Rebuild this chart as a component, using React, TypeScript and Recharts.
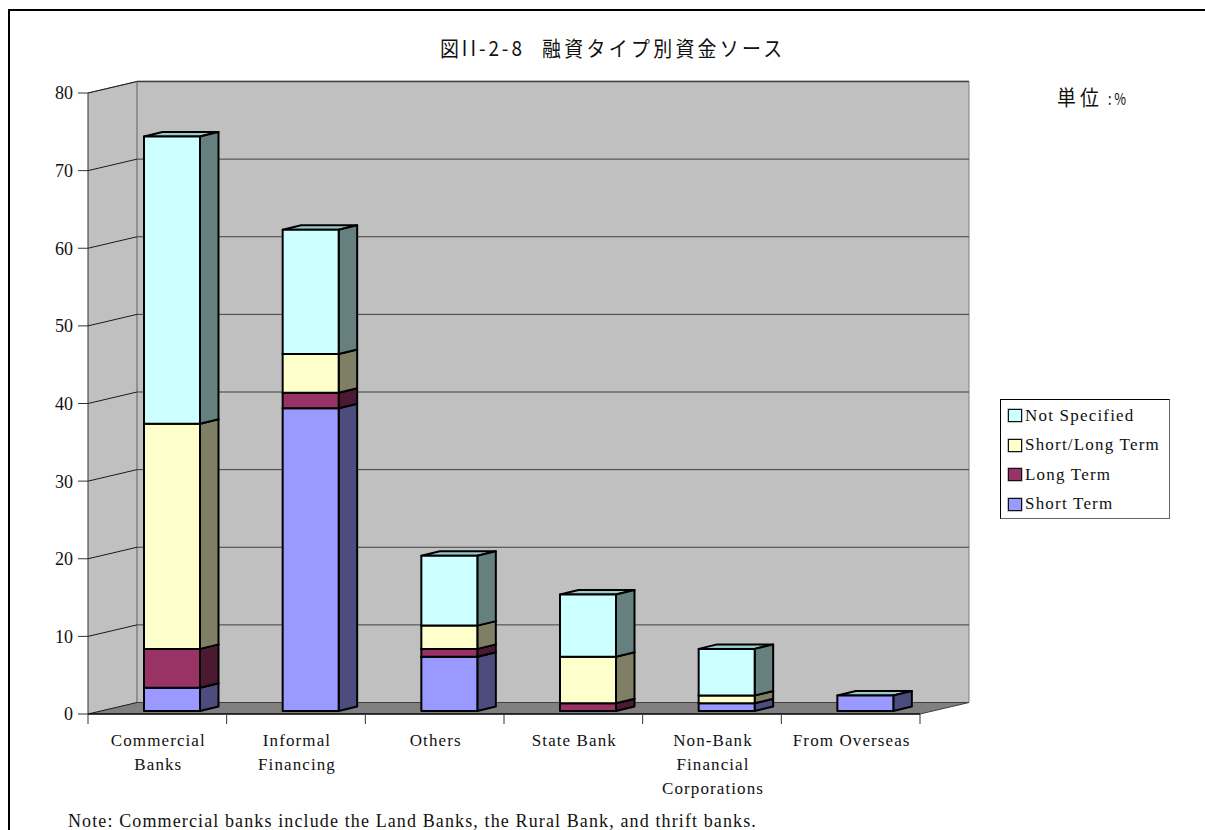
import React from "react";
import { BarChart, Bar, XAxis, YAxis, CartesianGrid, Legend } from "recharts";

// Funding sources by loan type, in percent
const categories = [
  "Commercial\nBanks",
  "Informal\nFinancing",
  "Others",
  "State Bank",
  "Non-Bank\nFinancial\nCorporations",
  "From Overseas",
];
const shortTerm = [3, 39, 7, 0, 1, 2];
const longTerm = [5, 2, 1, 1, 0, 0];
const shortLongTerm = [29, 5, 3, 6, 1, 0];
const notSpecified = [37, 16, 9, 8, 6, 0];
const yTicks = [0, 10, 20, 30, 40, 50, 60, 70, 80];

const rows = categories.map((name, i) => ({
  name,
  shortTerm: shortTerm[i],
  longTerm: longTerm[i],
  shortLongTerm: shortLongTerm[i],
  notSpecified: notSpecified[i],
}));

const W = 1205;
const H = 830;
const SERIF = '"Liberation Serif", serif';
const CJK = '"Noto Sans CJK JP", sans-serif';

// Oblique projection of the 3D box the chart sits in
const WALL_DX = 49;
const WALL_DY = -11.5;
const BAR_OFFSET_X = 15;
const BAR_OFFSET_Y = -3;
const BAR_DX = 18.5;
const BAR_DY = -4.5;
const BAND = 832 / categories.length;

const pts = (list: number[][]) => list.map((p) => p.join(",")).join(" ");

// Front, side and top faces of one stacked segment
function Box3D(props: any) {
  const { x, y, width, height, fill, sideFill } = props;
  if (!height || height <= 0) return null;
  const l = x + BAR_OFFSET_X;
  const r = l + width;
  const t = y + BAR_OFFSET_Y;
  const b = t + height;
  const edge = { stroke: "#000", strokeWidth: 2, strokeLinejoin: "round" as const };
  return (
    <g>
      <polygon
        points={pts([[l, t], [l + BAR_DX, t + BAR_DY], [r + BAR_DX, t + BAR_DY], [r, t]])}
        fill="#99cccc"
        {...edge}
      />
      <polygon
        points={pts([[r, t], [r + BAR_DX, t + BAR_DY], [r + BAR_DX, b + BAR_DY], [r, b]])}
        fill={sideFill}
        {...edge}
      />
      <rect x={l} y={t} width={width} height={height} fill={fill} {...edge} />
    </g>
  );
}

// Each grid line runs across the side wall and the back wall; the first call
// also lays down the walls and floor underneath the lines.
function WallLine(props: any) {
  const { x1, x2, y1, index } = props;
  return (
    <g key={`wall-line-${index}`}>
      {index === 0 && <Walls left={x1} right={x2} />}
      <line x1={x1} y1={y1} x2={x1 + WALL_DX} y2={y1 + WALL_DY} stroke="#1a1a1a" strokeWidth={1} />
      <line x1={x1 + WALL_DX} y1={y1 + WALL_DY} x2={x2 + WALL_DX} y2={y1 + WALL_DY} stroke="#404040" strokeWidth={1} />
    </g>
  );
}

function Walls({ left, right }: { left: number; right: number }) {
  const top = 93;
  const bottom = 714;
  const bl = left + WALL_DX;
  const br = right + WALL_DX;
  const dy = WALL_DY;
  return (
    <g>
      <polygon points={pts([[left, top], [bl, top + dy], [bl, bottom + dy], [left, bottom]])} fill="#c0c0c0" />
      <rect x={bl} y={top + dy} width={br - bl} height={bottom - top} fill="#c0c0c0" />
      <polygon points={pts([[left, bottom], [bl, bottom + dy], [br, bottom + dy], [right, bottom]])} fill="#808080" />
      <line x1={left} y1={top} x2={bl} y2={top + dy} stroke="#808080" strokeWidth={1} />
      <line x1={bl} y1={top + dy} x2={br} y2={top + dy} stroke="#808080" strokeWidth={2} />
      <line x1={bl} y1={top + dy} x2={bl} y2={bottom + dy} stroke="#909090" strokeWidth={2} />
      <line x1={br} y1={top + dy} x2={br} y2={bottom + dy} stroke="#808080" strokeWidth={1} />
      <line x1={right} y1={bottom} x2={br} y2={bottom + dy} stroke="#404040" strokeWidth={1} />
    </g>
  );
}

// Category label plus the tick marks on the band edges
function CategoryTick(props: any) {
  const { x, y, payload, index } = props;
  const lines = String(payload.value).split("\n");
  const left = x - BAND / 2;
  return (
    <g>
      <line x1={left} x2={left} y1={714} y2={724} stroke="#333" />
      {index === categories.length - 1 && (
        <line x1={left + BAND} x2={left + BAND} y1={714} y2={724} stroke="#333" />
      )}
      <text x={x + 1} y={y} textAnchor="middle" fontFamily={SERIF} fontSize={17} letterSpacing={1.1} fill="#111">
        {lines.map((line, i) => (
          <tspan key={line} x={x + 1} y={746 + i * 24}>
            {line}
          </tspan>
        ))}
      </text>
    </g>
  );
}

function Swatch({ color }: { color: string }) {
  return (
    <span
      style={{
        display: "inline-block",
        boxSizing: "border-box",
        width: 14,
        height: 13,
        background: color,
        border: "1.5px solid #111",
        boxShadow: "0 0 0 0.5px #888",
        marginRight: 3,
        flex: "none",
      }}
    />
  );
}

function LegendBox({ payload }: any) {
  const items = [...(payload ?? [])].reverse();
  return (
    <div
      style={{
        boxSizing: "border-box",
        width: 170,
        height: 120,
        background: "#fff",
        border: "1px solid #000",
        borderRightColor: "#666",
        borderBottomColor: "#666",
        padding: "1px 0 0 7px",
        fontFamily: SERIF,
        fontSize: 17,
        letterSpacing: 1.2,
        color: "#111",
      }}
    >
      {items.map((it: any) => (
        <div key={it.value} style={{ display: "flex", alignItems: "center", height: 29.5, whiteSpace: "nowrap" }}>
          <Swatch color={it.color} />
          {it.value}
        </div>
      ))}
    </div>
  );
}

const overlayText: React.CSSProperties = { position: "absolute", whiteSpace: "nowrap", color: "#111" };
const headingText: React.CSSProperties = {
  ...overlayText,
  fontFamily: CJK,
  fontSize: 21,
  lineHeight: "30px",
  transform: "scaleX(0.9)",
  transformOrigin: "left center",
};

export default function App() {
  return (
    <div style={{ position: "absolute", left: 0, top: 0, width: W, height: H, overflow: "hidden", background: "#fff" }}>
      <div
        style={{
          position: "absolute",
          left: 8,
          top: 9,
          width: W,
          height: H,
          borderLeft: "2.5px solid #000",
          borderTop: "2.5px solid #000",
        }}
      />
      <div style={{ ...headingText, left: 440, top: 32, letterSpacing: 3.3 }}>図II-2-8</div>
      <div style={{ ...headingText, left: 542, top: 32, letterSpacing: 3.7 }}>融資タイプ別資金ソース</div>
      <div style={{ ...headingText, left: 1057, top: 81, letterSpacing: 4.5 }}>単位</div>
      <div style={{ ...headingText, left: 1108, top: 83, fontSize: 16, letterSpacing: 3.5, transform: "scaleX(0.8)" }}>:%</div>
      <BarChart
        width={W}
        height={H}
        data={rows}
        margin={{ top: 93, right: 285, bottom: 26, left: 28 }}
        barCategoryGap={0}
        style={{ position: "absolute", left: 0, top: 0 }}
      >
        <CartesianGrid vertical={false} horizontal={WallLine as any} syncWithTicks />
        <XAxis
          dataKey="name"
          height={90}
          interval={0}
          axisLine={{ stroke: "#000", strokeWidth: 1.5 }}
          tickLine={false}
          tick={CategoryTick as any}
        />
        <YAxis
          width={60}
          domain={[0, 80]}
          ticks={yTicks}
          interval={0}
          axisLine={{ stroke: "#333", strokeWidth: 1 }}
          tickLine={{ stroke: "#333" }}
          tickSize={10}
          tickMargin={5}
          tick={{ fontFamily: SERIF, fontSize: 18, fill: "#111" }}
        />
        <Bar
          dataKey="shortTerm"
          name="Short Term"
          stackId="funding"
          barSize={56}
          fill="#9999ff"
          isAnimationActive={false}
          shape={(p: any) => <Box3D {...p} sideFill="#4c4c7f" />}
        />
        <Bar
          dataKey="longTerm"
          name="Long Term"
          stackId="funding"
          barSize={56}
          fill="#993366"
          isAnimationActive={false}
          shape={(p: any) => <Box3D {...p} sideFill="#4c1933" />}
        />
        <Bar
          dataKey="shortLongTerm"
          name="Short/Long Term"
          stackId="funding"
          barSize={56}
          fill="#ffffcc"
          isAnimationActive={false}
          shape={(p: any) => <Box3D {...p} sideFill="#7f7f66" />}
        />
        <Bar
          dataKey="notSpecified"
          name="Not Specified"
          stackId="funding"
          barSize={56}
          fill="#ccffff"
          isAnimationActive={false}
          shape={(p: any) => <Box3D {...p} sideFill="#667f7f" />}
        />
        <Legend
          layout="horizontal"
          verticalAlign="middle"
          align="center"
          itemSorter={null}
          content={LegendBox as any}
          wrapperStyle={{ left: 1000, top: 399, width: 170, height: 120, margin: 0 }}
        />
      </BarChart>
      <div style={{ ...overlayText, left: 68, top: 811, fontFamily: SERIF, fontSize: 18, letterSpacing: 1.12, lineHeight: "20px" }}>
        Note: Commercial banks include the Land Banks, the Rural Bank, and thrift banks.
      </div>
    </div>
  );
}
